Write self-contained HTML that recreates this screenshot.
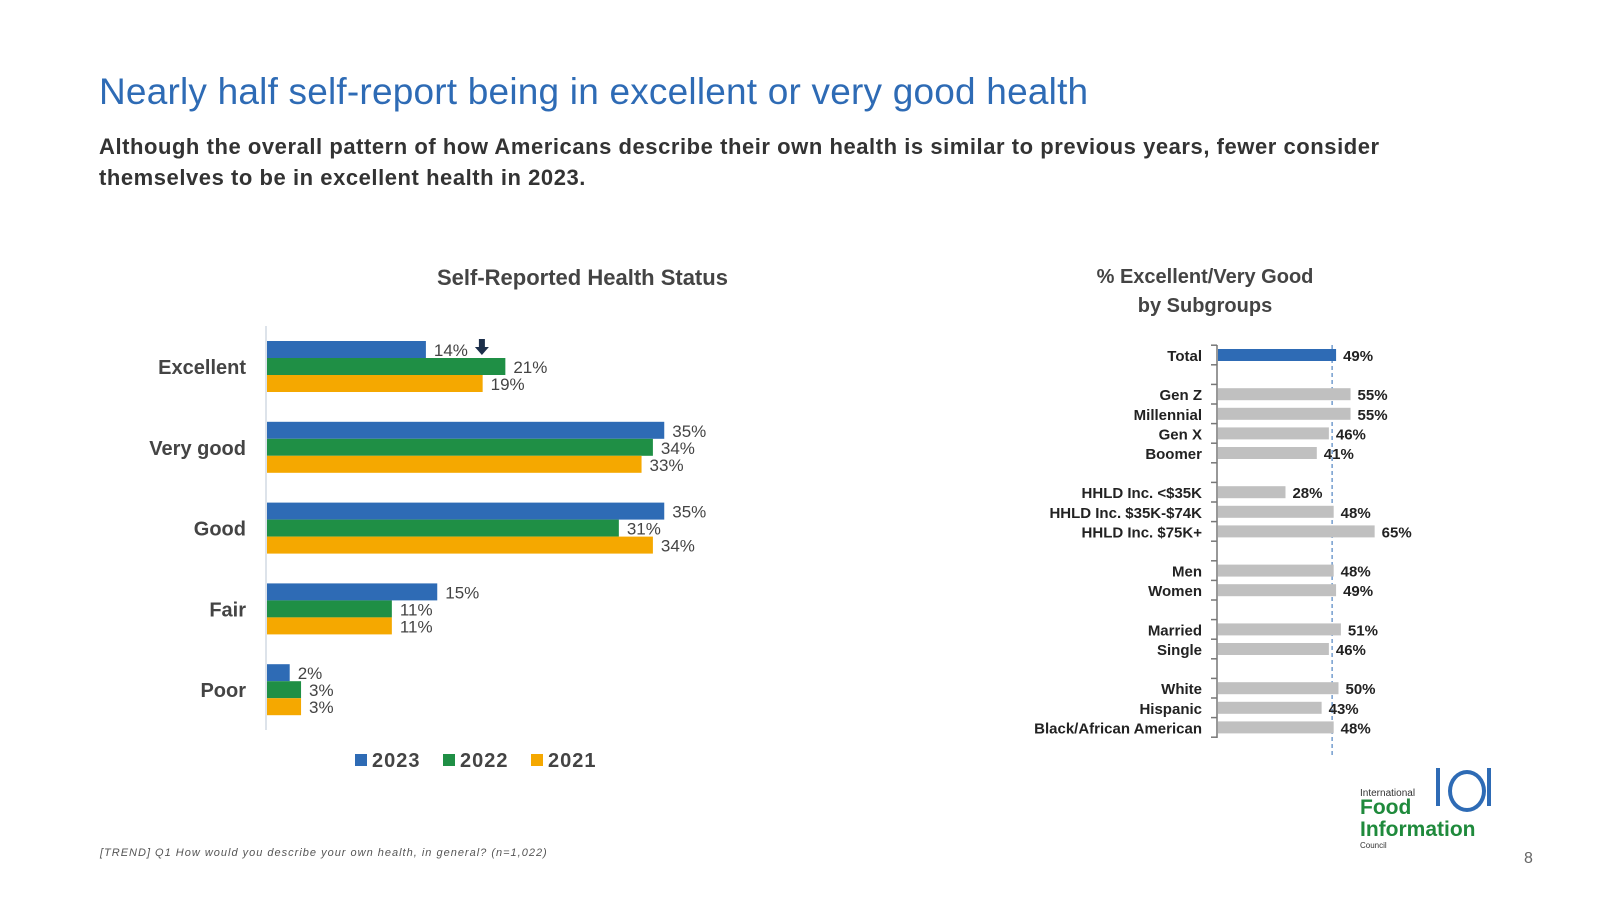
<!DOCTYPE html>
<html><head><meta charset="utf-8"><style>
body{margin:0;width:1600px;height:900px;background:#fff;overflow:hidden;font-family:"Liberation Sans",sans-serif;position:relative}
.t{position:absolute;white-space:nowrap}
</style></head><body>
<div class="t" style="left:99px;top:71px;font-size:37px;color:#2e6bb5;letter-spacing:0.2px">Nearly half self-report being in excellent or very good health</div>
<div class="t" style="left:99px;top:131px;font-size:22px;color:#333;line-height:31px;white-space:normal;width:1300px;font-weight:bold;letter-spacing:0.55px">Although the overall pattern of how Americans describe their own health is similar to previous years, fewer consider themselves to be in excellent health in 2023.</div>
<div class="t" style="left:437px;top:265px;font-size:22px;color:#444;font-weight:bold">Self-Reported Health Status</div>
<div class="t" style="left:1090px;top:263px;font-size:20px;color:#444;font-weight:bold;text-align:center;width:230px;line-height:29px">% Excellent/Very Good<br>by Subgroups</div>
<svg width="1600" height="900" style="position:absolute;left:0;top:0" id="svg"></svg>
<div class="t" style="left:100px;top:847px;font-size:11px;font-style:italic;color:#555;letter-spacing:1px">[TREND] Q1 How would you describe your own health, in general? (n=1,022)</div>
<div class="t" style="left:1524px;top:850px;font-size:16px;color:#666">8</div>
<div style="position:absolute;left:1360px;top:768px;width:150px;height:85px">
 <div class="t" style="left:0;top:20px;font-size:10px;color:#333">International</div>
 <div class="t" style="left:0;top:29px;font-size:21px;font-weight:bold;color:#1f8a3c;line-height:22px">Food<br>Information</div>
 <div class="t" style="left:0;top:73px;font-size:8px;color:#333">Council</div>
 <div style="position:absolute;left:88px;top:2px;width:30px;height:34px;border:4px solid #2e6bb5;border-radius:50%"></div>
 <div style="position:absolute;left:76px;top:0;width:4px;height:38px;background:#2e6bb5"></div>
 <div style="position:absolute;left:127px;top:0;width:4px;height:38px;background:#2e6bb5"></div>
</div>
<script>
const cats=["Excellent","Very good","Good","Fair","Poor"];
const s2023=[14,35,35,15,2];
const s2022=[21,34,31,11,3];
const s2021=[19,33,34,11,3];
const years=["2023","2022","2021"];
const subCats=["Total",null,"Gen Z","Millennial","Gen X","Boomer",null,"HHLD Inc. <$35K","HHLD Inc. $35K-$74K","HHLD Inc. $75K+",null,"Men","Women",null,"Married","Single",null,"White","Hispanic","Black/African American"];
const subVals=[49,null,55,55,46,41,null,28,48,65,null,48,49,null,51,46,null,50,43,48];
const totalRef=49;

const svg=document.getElementById('svg');const NS='http://www.w3.org/2000/svg';
function mk(t,a,name){const e=document.createElementNS(NS,t);for(const k in a)e.setAttribute(k,a[k]);


svg.appendChild(e);return e;}
function txt(x,y,s,a,name){const e=mk('text',Object.assign({x:x,y:y},a),name);e.textContent=s;return e;}
const X0=267,SC=11.35,BH=17;
const xL=v=>X0+v*SC;
const gy=i=>367+i*80.8;
const cols=["#2e6bb5","#1f8f45","#f5a800"];
const series=[s2023,s2022,s2021];
mk('line',{x1:X0-1,y1:326,x2:X0-1,y2:730,stroke:'#dde3ea','stroke-width':2},'left-axis');
cats.forEach((c,i)=>{
 txt(246,gy(i)+7,c,{'text-anchor':'end','font-size':20,'font-weight':'bold',fill:'#444','font-family':'Liberation Sans Narrow, Liberation Sans, sans-serif'},'category-label-'+c.toLowerCase().replace(' ','-'));
 series.forEach((s,j)=>{
  const y=gy(i)-26+j*BH;
  mk('rect',{x:X0,y:y,width:xL(s[i])-X0,height:BH,fill:cols[j]},'bar-'+years[j]+'-'+c.toLowerCase().replace(' ','-'));
  txt(xL(s[i])+8,y+15,s[i]+'%',{'font-size':17,fill:'#444'},'value-label-'+years[j]+'-'+i);
 });
});
const ax=xL(s2023[0])+56;
mk('path',{d:`M${ax-3} ${gy(0)-28}h6v8h4l-7 8l-7-8h4z`,fill:'#1c2f4a'},'decline-arrow');
years.forEach((y,j)=>{const lx=355+j*88;
 mk('rect',{x:lx,y:754,width:12,height:12,fill:cols[j]},'legend-swatch-'+y);
 txt(lx+17,767,y,{'font-size':20,'font-weight':'bold',fill:'#444','letter-spacing':1},'legend-entry-'+y);
});
const RX0=1217,RS=2.41,RBH=12;
const xR=v=>RX0+v*RS;
const ry=i=>355+i*19.6;
mk('line',{x1:RX0,y1:345,x2:RX0,y2:738,stroke:'#777','stroke-width':1.5},'right-axis');
for(let i=0;i<=20;i++){mk('line',{x1:RX0-6,y1:ry(i)-9.8,x2:RX0,y2:ry(i)-9.8,stroke:'#777','stroke-width':1.5},'axis-tick');}
mk('line',{x1:xR(totalRef)-3,y1:345,x2:xR(totalRef)-3,y2:755,stroke:'#2e6bb5','stroke-width':1,'stroke-dasharray':'4,3'},'total-reference-line');
subCats.forEach((c,i)=>{if(c===null)return;
 const v=subVals[i];
 txt(1202,ry(i)+6,c,{'text-anchor':'end','font-size':15,'font-weight':'bold',fill:'#222'},'subgroup-label');
 mk('rect',{x:RX0+1,y:ry(i)-6,width:xR(v)-RX0,height:RBH,fill:i===0?'#2e6bb5':'#c0c0c0'},'subgroup-bar');
 txt(xR(v)+8,ry(i)+6,v+'%',{'font-size':15,'font-weight':'bold',fill:'#222'},'subgroup-value');
});
</script>
</body></html>
